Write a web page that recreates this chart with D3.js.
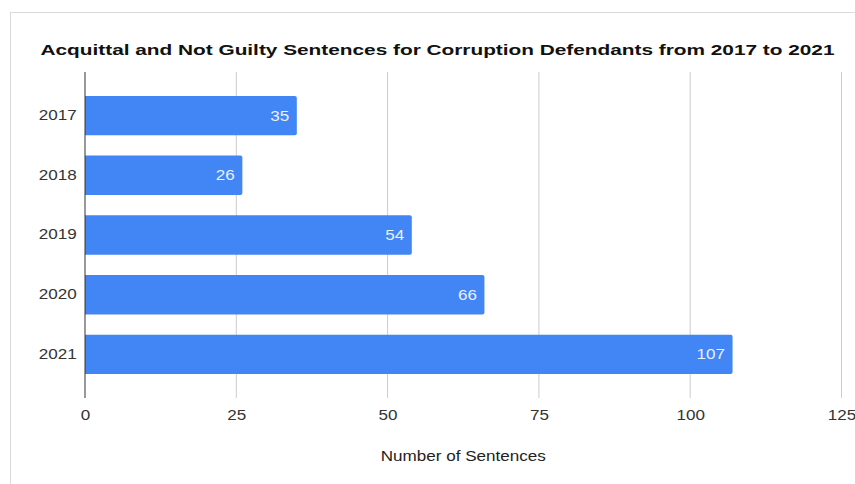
<!DOCTYPE html>
<html>
<head>
<meta charset="utf-8">
<script src="https://cdn.jsdelivr.net/npm/d3@7"></script>
<style>
  body { margin: 0; background: #fff; }
  svg { display: block; }
</style>
</head>
<body>
<script>
const years = ['2017', '2018', '2019', '2020', '2021'];
const sentences = [35, 26, 54, 66, 107];
const xTicks = [0, 25, 50, 75, 100, 125];

const W = 855, H = 484;
const plot = { left: 85, right: 841.5, top: 72, bottom: 398 };
const font = 'Liberation Sans, Arial, sans-serif';
const sx = 1.22; // the text in the original is drawn a bit wide

const svg = d3.select('body').append('svg')
  .attr('width', W)
  .attr('height', H);

// card border (cropped at right and bottom)
svg.append('rect')
  .attr('x', 10.5).attr('y', 12.5)
  .attr('width', W + 20).attr('height', H + 20)
  .attr('fill', '#fff')
  .attr('stroke', '#dadada');

const x = d3.scaleLinear().domain([0, 125]).range([plot.left, plot.right]);
const y = d3.scaleBand().domain(years)
  .range([plot.top, plot.bottom])
  .paddingInner(0.34)
  .paddingOuter(0.4);

// title, stretched to the width it has in the original
const title = svg.append('text')
  .attr('text-anchor', 'middle')
  .attr('font-family', font)
  .attr('font-weight', 'bold')
  .attr('font-size', 15)
  .attr('fill', '#111')
  .text('Acquittal and Not Guilty Sentences for Corruption Defendants from 2017 to 2021');
const titleW = title.node().getComputedTextLength();
title.attr('transform', `translate(437.5,55) scale(${795 / titleW},1)`);

// grid
svg.append('g')
  .selectAll('line')
  .data(xTicks.filter(d => d > 0))
  .join('line')
  .attr('x1', d => x(d)).attr('x2', d => x(d))
  .attr('y1', plot.top).attr('y2', plot.bottom)
  .attr('stroke', '#cccccc');

// bars
const bars = svg.append('g');
bars.selectAll('path')
  .data(years)
  .join('path')
  .attr('fill', '#4285f4')
  .attr('d', (d, i) => {
    const x0 = x(0), x1 = x(sentences[i]), y0 = y(d), h = y.bandwidth(), r = 2;
    return `M${x0},${y0}H${x1 - r}Q${x1},${y0} ${x1},${y0 + r}V${y0 + h - r}Q${x1},${y0 + h} ${x1 - r},${y0 + h}H${x0}Z`;
  });

bars.selectAll('text')
  .data(years)
  .join('text')
  .attr('transform', (d, i) => `translate(${x(sentences[i]) - 7.5},${y(d) + y.bandwidth() / 2}) scale(${sx},1)`)
  .attr('dy', '0.36em')
  .attr('text-anchor', 'end')
  .attr('font-family', font)
  .attr('font-size', 14)
  .attr('fill', '#eaf1fe')
  .text((d, i) => sentences[i]);

// y axis
const yAxis = svg.append('g')
  .attr('transform', `translate(${plot.left},0)`)
  .call(d3.axisLeft(y).tickSize(0).tickPadding(8.3 / sx));
yAxis.select('.domain').remove();
yAxis.selectAll('text')
  .attr('transform', `scale(${sx},1)`)
  .attr('font-family', font)
  .attr('font-size', 14)
  .attr('fill', '#333');

svg.append('line')
  .attr('x1', plot.left).attr('x2', plot.left)
  .attr('y1', plot.top).attr('y2', plot.bottom)
  .attr('stroke', '#333');

// x axis
const xAxis = svg.append('g')
  .attr('transform', `translate(0,${plot.bottom})`)
  .call(d3.axisBottom(x).tickValues(xTicks).tickSize(0).tickPadding(12));
xAxis.select('.domain').remove();
xAxis.selectAll('text')
  .attr('transform', `scale(${sx},1)`)
  .attr('font-family', font)
  .attr('font-size', 14)
  .attr('fill', '#333');

svg.append('text')
  .attr('transform', `translate(${(plot.left + plot.right) / 2},461) scale(${sx},1)`)
  .attr('text-anchor', 'middle')
  .attr('font-family', font)
  .attr('font-size', 14)
  .attr('fill', '#222')
  .text('Number of Sentences');
</script>
</body>
</html>
